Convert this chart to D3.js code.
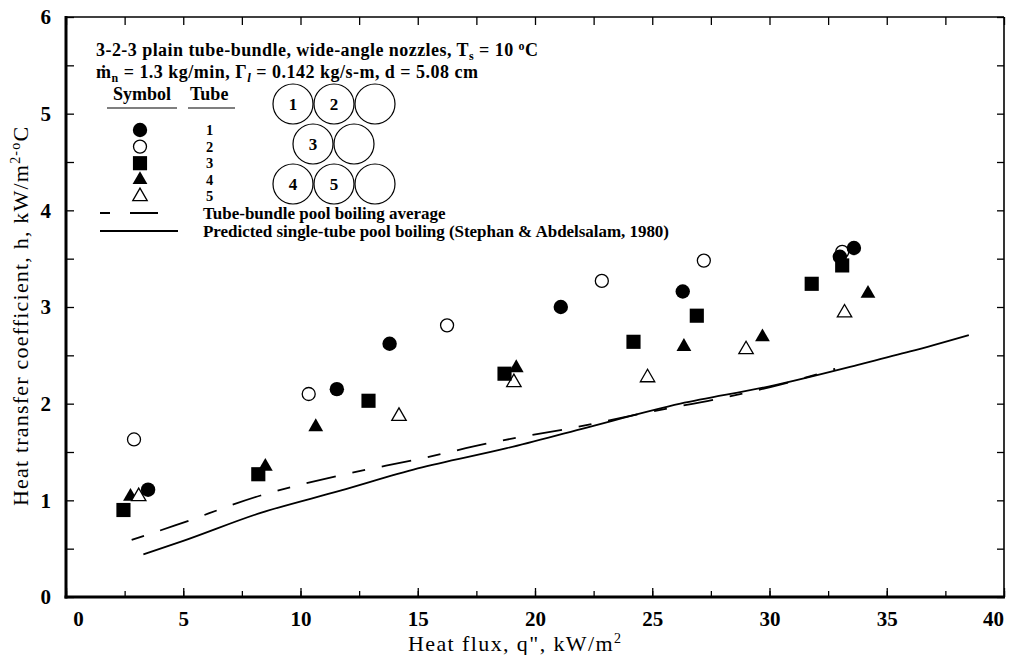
<!DOCTYPE html>
<html>
<head>
<meta charset="utf-8">
<script src="https://cdn.jsdelivr.net/npm/d3@7"></script>
<style>
  body { margin: 0; background: #fff; }
  text { font-family: "Liberation Serif", "Times New Roman", serif; fill: #000; }
</style>
</head>
<body>
<svg id="chart" width="1009" height="655"></svg>
<script>
// heat flux q" (kW/m2) and h (kW/m2-oC), per tube
const tube1X = [3.5, 11.55, 13.8, 21.1, 26.3, 33.0, 33.6];
const tube1H = [1.11, 2.15, 2.62, 3.0, 3.16, 3.52, 3.61];
const tube2X = [2.9, 10.35, 16.25, 22.85, 27.2, 33.1];
const tube2H = [1.63, 2.1, 2.81, 3.27, 3.48, 3.57];
const tube3X = [2.45, 8.2, 12.9, 18.7, 24.2, 26.9, 31.8, 33.1];
const tube3H = [0.9, 1.27, 2.03, 2.31, 2.64, 2.91, 3.24, 3.43];
const tube4X = [2.75, 8.5, 10.65, 19.2, 26.35, 29.7, 34.2];
const tube4H = [1.04, 1.35, 1.76, 2.37, 2.59, 2.69, 3.14];
const tube5X = [3.1, 14.2, 19.1, 24.8, 29.0, 33.2];
const tube5H = [1.04, 1.87, 2.22, 2.27, 2.56, 2.94];

// tube-bundle pool boiling average (dashed)
const avgX = [2.8, 4.65, 8.3, 11.7, 15.1, 18.4, 21.6, 25.0, 28.0, 30.5, 32.8];
const avgH = [0.59, 0.74, 1.05, 1.26, 1.43, 1.61, 1.75, 1.92, 2.06, 2.2, 2.36];
// predicted single-tube pool boiling, Stephan & Abdelsalam (solid)
const predX = [3.3, 5, 8.3, 11.7, 15, 18.8, 22, 26.2, 30, 33.9, 36, 38.5];
const predH = [0.44, 0.58, 0.87, 1.1, 1.33, 1.54, 1.74, 2.0, 2.18, 2.41, 2.54, 2.71];

const xTicks = [0, 5, 10, 15, 20, 25, 30, 35, 40];
const yTicks = [0, 1, 2, 3, 4, 5, 6];
const tubeNames = ["1", "2", "3", "4", "5"];

const svg = d3.select("#chart");
const x = d3.scaleLinear().domain([0, 40]).range([66, 1004]);
const y = d3.scaleLinear().domain([0, 6]).range([597, 17]);

// ticks, inward on all four sides
const minorX = d3.range(0, 40.01, 2.5);
const minorY = d3.range(0, 6.01, 0.5);

function tidy(g) {
    g.select(".domain").remove();
    g.selectAll(".tick line").attr("stroke", "#000").attr("stroke-width", 1.3);
}
function tickFont(g) {
    g.selectAll("text")
        .attr("font-size", 21).attr("font-weight", "bold")
        .attr("font-family", "Liberation Serif").attr("fill", "#000");
}

svg.append("g").attr("transform", `translate(0,${y(0)})`)
    .call(d3.axisBottom(x).tickValues(minorX).tickSize(-6).tickFormat(""))
    .call(tidy);
svg.append("g").attr("transform", `translate(0,${y(0)})`)
    .call(d3.axisBottom(x).tickValues(xTicks).tickSize(-9).tickPadding(14).tickFormat(d3.format("d")))
    .call(tidy)
    .call(tickFont)
    .call(g => g.selectAll(".tick").filter(d => d === 0).select("text").attr("dx", 12))
    .call(g => g.selectAll(".tick").filter(d => d === 40).select("text").attr("dx", -11));
svg.append("g").attr("transform", `translate(0,${y(6)})`)
    .call(d3.axisTop(x).tickValues(minorX).tickSize(-8).tickFormat(""))
    .call(tidy);

svg.append("g").attr("transform", `translate(${x(0)},0)`)
    .call(d3.axisLeft(y).tickValues(minorY).tickSize(-8).tickFormat(""))
    .call(tidy);
svg.append("g").attr("transform", `translate(${x(0)},0)`)
    .call(d3.axisLeft(y).tickValues(yTicks).tickSize(0).tickPadding(15).tickFormat(d3.format("d")))
    .call(tidy)
    .call(tickFont);
svg.append("g").attr("transform", `translate(${x(40)},0)`)
    .call(d3.axisRight(y).tickValues(minorY).tickSize(-7).tickFormat(""))
    .call(tidy);

// frame: heavy left and bottom
svg.append("line").attr("x1", x(0)).attr("x2", x(40)).attr("y1", y(6)).attr("y2", y(6))
    .attr("stroke", "#000").attr("stroke-width", 1.6);
svg.append("line").attr("x1", x(40)).attr("x2", x(40)).attr("y1", y(6)).attr("y2", y(0))
    .attr("stroke", "#000").attr("stroke-width", 1.6);
svg.append("line").attr("x1", x(0)).attr("x2", x(0)).attr("y1", y(6) - 1).attr("y2", y(0) + 1.5)
    .attr("stroke", "#000").attr("stroke-width", 3);
svg.append("line").attr("x1", x(0) - 1.5).attr("x2", x(40) + 1).attr("y1", y(0)).attr("y2", y(0))
    .attr("stroke", "#000").attr("stroke-width", 3);

// axis titles
svg.append("text")
    .attr("x", 408).attr("y", 651)
    .attr("font-size", 22)
    .attr("letter-spacing", 1.4)
    .html('Heat flux, q", kW/m<tspan font-size="14" dy="-8">2</tspan>');

svg.append("text")
    .attr("transform", "translate(28,506) rotate(-90)")
    .attr("font-size", 22)
    .attr("letter-spacing", 1.2)
    .html('Heat transfer coefficient, h, kW/m<tspan font-size="14" dy="-8">2-o</tspan><tspan dy="8">C</tspan>');

// curves
const line = d3.line().x(d => x(d[0])).y(d => y(d[1])).curve(d3.curveMonotoneX);

svg.append("path")
    .datum(d3.zip(predX, predH))
    .attr("d", line)
    .attr("fill", "none").attr("stroke", "#000").attr("stroke-width", 1.8);

svg.append("path")
    .datum(d3.zip(avgX, avgH))
    .attr("d", line)
    .attr("fill", "none").attr("stroke", "#000").attr("stroke-width", 1.8)
    .attr("stroke-dasharray", "13,17,30,17");

// symbols
function mark(g, kind, cx, cy) {
    if (kind === "dot") {
        g.append("circle").attr("cx", cx).attr("cy", cy).attr("r", 7.2).attr("fill", "#000");
    } else if (kind === "ring") {
        g.append("circle").attr("cx", cx).attr("cy", cy).attr("r", 6.5)
            .attr("fill", "#fff").attr("stroke", "#000").attr("stroke-width", 1.3);
    } else if (kind === "square") {
        g.append("path").attr("transform", `translate(${cx},${cy})`)
            .attr("d", d3.symbol(d3.symbolSquare, 200)()).attr("fill", "#000");
    } else if (kind === "tri") {
        g.append("path").attr("transform", `translate(${cx},${cy})`)
            .attr("d", d3.symbol(d3.symbolTriangle, 95)()).attr("fill", "#000");
    } else {
        g.append("path").attr("transform", `translate(${cx},${cy})`)
            .attr("d", d3.symbol(d3.symbolTriangle, 90)())
            .attr("fill", "#fff").attr("stroke", "#000").attr("stroke-width", 1.3);
    }
}

const series = [
    { kind: "tri", xs: tube4X, hs: tube4H },
    { kind: "opentri", xs: tube5X, hs: tube5H },
    { kind: "ring", xs: tube2X, hs: tube2H },
    { kind: "square", xs: tube3X, hs: tube3H },
    { kind: "dot", xs: tube1X, hs: tube1H }
];
const marks = svg.append("g");
series.forEach(s => s.xs.forEach((v, i) => mark(marks, s.kind, x(v), y(s.hs[i]))));

// legend / annotation block
const leg = svg.append("g");
leg.append("text").attr("x", 96).attr("y", 56).attr("font-size", 18).attr("font-weight", "bold")
    .attr("textLength", 442)
    .html('3-2-3 plain tube-bundle, wide-angle nozzles, T<tspan font-size="12" dy="4">s</tspan><tspan dy="-4"> = 10 </tspan><tspan font-size="12" dy="-6">o</tspan><tspan dy="6">C</tspan>');
leg.append("text").attr("x", 96).attr("y", 78).attr("font-size", 18).attr("font-weight", "bold")
    .attr("textLength", 382)
    .html('\u1E41<tspan font-size="12" dy="4">n</tspan><tspan dy="-4"> = 1.3 kg/min,  \u0393</tspan><tspan font-size="13" font-style="italic" dy="4">l</tspan><tspan dy="-4"> = 0.142 kg/s-m, d = 5.08 cm</tspan>');

leg.append("text").attr("x", 113).attr("y", 100).attr("font-size", 18).attr("font-weight", "bold").text("Symbol");
leg.append("text").attr("x", 190).attr("y", 100).attr("font-size", 18).attr("font-weight", "bold").text("Tube");
leg.append("line").attr("x1", 107).attr("x2", 177).attr("y1", 108).attr("y2", 108).attr("stroke", "#000").attr("stroke-width", 1.2);
leg.append("line").attr("x1", 188).attr("x2", 235).attr("y1", 108).attr("y2", 108).attr("stroke", "#000").attr("stroke-width", 1.2);

const legKinds = ["dot", "ring", "square", "tri", "opentri"];
tubeNames.forEach((t, i) => {
    const ry = 130 + i * 16.6;
    mark(leg, legKinds[i], 140, ry);
    leg.append("text").attr("x", 206).attr("y", ry + 5).attr("font-size", 14.5).attr("font-weight", "bold").text(t);
});

leg.append("line").attr("x1", 100).attr("x2", 158).attr("y1", 213).attr("y2", 213)
    .attr("stroke", "#000").attr("stroke-width", 2).attr("stroke-dasharray", "10,20,28");
leg.append("text").attr("x", 203).attr("y", 219).attr("font-size", 17).attr("font-weight", "bold")
    .text("Tube-bundle pool boiling average");
leg.append("line").attr("x1", 100).attr("x2", 178).attr("y1", 231).attr("y2", 231)
    .attr("stroke", "#000").attr("stroke-width", 1.8);
leg.append("text").attr("x", 203).attr("y", 237).attr("font-size", 17).attr("font-weight", "bold")
    .attr("textLength", 466)
    .text("Predicted single-tube pool boiling (Stephan & Abdelsalam, 1980)");

// tube arrangement sketch
const rows = [
    { cy: 104, cxs: [293, 334, 375], labels: ["1", "2", ""] },
    { cy: 144, cxs: [313, 354], labels: ["3", ""] },
    { cy: 184, cxs: [293, 334, 375], labels: ["4", "5", ""] }
];
rows.forEach(r => r.cxs.forEach((cx, i) => {
    leg.append("circle").attr("cx", cx).attr("cy", r.cy).attr("r", 20)
        .attr("fill", "none").attr("stroke", "#000").attr("stroke-width", 1.2);
    leg.append("text").attr("x", cx).attr("y", r.cy + 6).attr("text-anchor", "middle")
        .attr("font-size", 17).attr("font-weight", "bold").text(r.labels[i]);
}));
</script>
</body>
</html>
